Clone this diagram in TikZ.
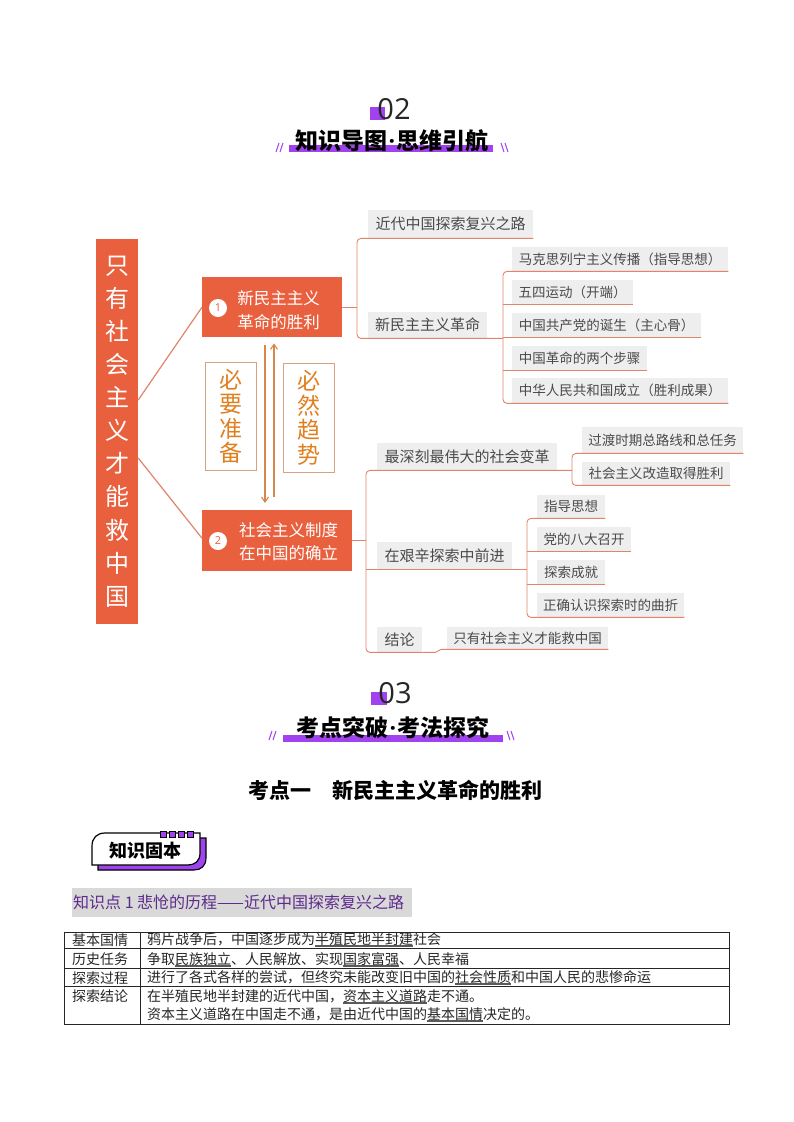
\documentclass[tikz,border=0pt]{standalone}
\usepackage{fontspec}
\usetikzlibrary{arrows.meta,calc}
\newfontfamily\cjk{Noto Sans CJK SC}
\newfontfamily\latinf{Open Sans}
\definecolor{mred}{HTML}{E9603F}
\definecolor{connc}{HTML}{E0846A}
\definecolor{boxgray}{HTML}{EEEEEE}
\definecolor{boxtext}{HTML}{4A4A4A}
\definecolor{arrc}{HTML}{D8874A}
\definecolor{prepb}{HTML}{D9A27E}
\definecolor{prept}{HTML}{E07F1E}
\definecolor{ppl}{HTML}{A043EE}
\definecolor{dppl}{HTML}{5E2A8B}
\definecolor{kgray}{HTML}{D9D9D9}
\definecolor{ulgray}{HTML}{5A5A5A}
\newcommand\myul[1]{\setbox0\hbox{#1}\rlap{\color{ulgray}\rule[-2.6pt]{\wd0}{2pt}}\box0}
\newcommand\mydot{\hspace{1pt}{\latinf\bfseries ·}\hspace{1pt}}
\newcommand\mmbox[7]{\node[#2, anchor=north west, minimum width=#5pt-#3pt, minimum height=#6pt-#4pt] (#1) at (#3,#4) {#7};}
\tikzset{
  lone/.style={fill=boxgray, text=boxtext, font=\cjk\fontsize{15}{18}\selectfont, inner sep=0pt},
  ltwo/.style={fill=boxgray, text=boxtext, font=\cjk\fontsize{13.5}{16}\selectfont, inner sep=0pt},
  conn/.style={draw=connc, line width=0.9pt, rounded corners=4pt},
  mainline/.style={draw=connc, line width=1.2pt},
  arrowl/.style={draw=arrc, line width=1.1pt},
  redbox/.style={fill=mred, inner sep=0pt},
  whitetxt/.style={text=white, font=\cjk\fontsize{16.5}{23.5}\selectfont, align=center, inner sep=0pt},
  numc/.style={circle, fill=white, minimum size=18pt, inner sep=0pt, text=mred, font=\latinf\fontsize{11}{12}\selectfont},
  prepbox/.style={draw=prepb, line width=1pt, text=prept, font=\cjk\fontsize{23}{24.5}\selectfont, align=center, inner sep=0pt},
  slash/.style={draw=ppl, line width=1pt},
  numtxt/.style={font=\latinf\fontsize{29}{30}\selectfont, text=black!85, inner sep=0pt},
  ttl/.style={font=\cjk\bfseries\fontsize{23}{25}\selectfont, inner sep=0pt},
  tbl/.style={draw=black!85, line width=0.9pt},
  tcell/.style={anchor=west, inner sep=0pt, font=\cjk\fontsize{14}{16}\selectfont, text=black!85},
}
\begin{document}
\begin{tikzpicture}[x=1pt,y=-1pt]
\useasboundingbox[fill=white] (0,0) rectangle (793,1122);

% ---------- header 02
\fill[ppl] (370,107) rectangle (385,120);
\node[numtxt] (h02) at (394,109) {02};
\fill[ppl] (289,145) rectangle (493,152);
\node[ttl] (t02) at (392,141) {知识导图\mydot 思维引航};
\draw[slash] (276,152) -- (279,143); \draw[slash] (280,152) -- (283,143);
\draw[slash] (501,143) -- (504,152); \draw[slash] (505,143) -- (508,152);

% ---------- mind map main nodes
\node[redbox, minimum width=42pt, minimum height=385pt, text=white, align=center,
      font=\cjk\fontsize{24}{33.1}\selectfont] (L) at (117,431.5)
      {只\\有\\社\\会\\主\\义\\才\\能\\救\\中\\国};
\node[redbox, anchor=north west, minimum width=140pt, minimum height=60pt] (n1) at (202,277) {};
\node[whitetxt] (n1t) at (278.5,310) {新民主主义\\革命的胜利};
\node[numc] (c1) at (218,308) {1};
\node[redbox, anchor=north west, minimum width=150pt, minimum height=61pt] (n2) at (202,510) {};
\node[whitetxt] (n2t) at (288.5,541.5) {社会主义制度\\在中国的确立};
\node[numc] (c2) at (218,541) {2};

\draw[mainline] ($(L.east)+(0,-31.5)$) -- (n1.west);
\draw[mainline] ($(L.east)+(0,26.5)$) -- ($(n2.west)+(0,-2.5)$);

% prep boxes
\node[prepbox, anchor=north west, minimum width=51pt, minimum height=108pt] (p1) at (205,362) {必\\要\\准\\备};
\node[prepbox, anchor=north west, minimum width=51pt, minimum height=109pt] (p2) at (283,363) {必\\然\\趋\\势};

% arrows
\coordinate (ax1) at (265,0);
\coordinate (ax2) at (274,0);
\draw[arrowl, -{Straight Barb[length=5pt,width=7pt]}, shorten <=8pt, shorten >=7pt] (ax1 |- n1.south) -- (ax1 |- n2.north);
\draw[arrowl, -{Straight Barb[length=5pt,width=7pt]}, shorten <=13pt, shorten >=6pt] (ax2 |- n2.north) -- (ax2 |- n1.south);

% ---------- branch boxes
\mmbox{k1}{lone}{368}{210}{533}{238}{近代中国探索复兴之路}
\mmbox{k2}{lone}{368}{312}{487}{338}{新民主主义革命}
\mmbox{s1}{ltwo}{512}{247}{728}{271}{马克思列宁主义传播（指导思想）}
\mmbox{s2}{ltwo}{512}{280}{633}{304}{五四运动（开端）}
\mmbox{s3}{ltwo}{512}{313}{701}{337}{中国共产党的诞生（主心骨）}
\mmbox{s4}{ltwo}{512}{346}{647}{370}{中国革命的两个步骤}
\mmbox{s5}{ltwo}{512}{378}{728}{403}{中华人民共和国成立（胜利成果）}
\mmbox{m1}{lone}{377}{443}{557}{470}{最深刻最伟大的社会变革}
\mmbox{m2}{lone}{377}{542}{512}{569}{在艰辛探索中前进}
\mmbox{m3}{lone}{377}{627}{422}{652}{结论}
\mmbox{t1}{ltwo}{582}{427}{743}{453}{过渡时期总路线和总任务}
\mmbox{t2}{ltwo}{582}{462}{730}{485}{社会主义改造取得胜利}
\mmbox{u1}{ltwo}{537}{495}{605}{518}{指导思想}
\mmbox{u2}{ltwo}{537}{527}{631}{551}{党的八大召开}
\mmbox{u3}{ltwo}{537}{560}{605}{584}{探索成就}
\mmbox{u4}{ltwo}{537}{593}{684}{617}{正确认识探索时的曲折}
\mmbox{v1}{ltwo}{447}{627}{608}{649}{只有社会主义才能救中国}

\coordinate (brA) at (357,0);
\coordinate (brB) at (503,0);
\coordinate (brC) at (366,0);
\coordinate (brD) at (572,0);
\coordinate (brE) at (527,0);

\draw[conn] (n1.east) -- (n1.east -| brA);
\draw[conn] (k1.south east) -| (brA |- k2.south) -- (brB |- k2.south);
\draw[conn] (s1.south east) -| (brB |- s5.south) -- (s5.south east);
\foreach \s in {s2,s3,s4} \draw[conn] (brB |- \s.south) -- (\s.south east);

\draw[conn] (n2.east) -- (n2.east -| brC);
\draw[conn] (brD |- m1.south) -| (brC |- m3.south) -- (m3.south east);
\draw[conn] (brC |- m2.south) -- (brE |- m2.south);
\draw[conn] (t1.south east) -| (brD |- t2.south) -- (t2.south east);
\draw[conn] (u1.south east) -| (brE |- u4.south) -- (u4.south east);
\foreach \s in {u2,u3} \draw[conn] (brE |- \s.south) -- (\s.south east);
\draw[conn, sharp corners] (m3.south east) -- ($(m3.south east)+(13,0)$) -- ($(v1.south west)+(-6,0)$) -- (v1.south east);

% ---------- header 03
\fill[ppl] (371,692) rectangle (387,705);
\node[numtxt] (h03) at (395,693) {03};
\fill[ppl] (283,735) rectangle (503,742);
\node[ttl] (t03) at (393,727.5) {考点突破\mydot 考法探究};
\draw[slash] (269,740) -- (272,731); \draw[slash] (273,740) -- (276,731);
\draw[slash] (507,731) -- (510,740); \draw[slash] (511,731) -- (514,740);

\node[font=\cjk\bfseries\fontsize{21}{23}\selectfont, inner sep=0pt] (kd1) at (395.5,790) {考点一　新民主主义革命的胜利};

% ---------- badge
\path[fill=ppl, draw=black, line width=1.1pt, shift={(6,5)}]
  (92,865) -- (92,846) .. controls (92,838) and (97,833) .. (105,833) -- (200,833) -- (200,853)
  .. controls (200,861) and (195,865) .. (188,865) -- cycle;
\path[fill=white, draw=black, line width=1.2pt]
  (92,865) -- (92,846) .. controls (92,838) and (97,833) .. (105,833) -- (200,833) -- (200,853)
  .. controls (200,861) and (195,865) .. (188,865) -- cycle;
\foreach \xx in {163,172,181,190} \filldraw[fill=ppl, draw=black, line width=0.7pt] (\xx-3,831) rectangle (\xx+3,837);
\node[font=\cjk\bfseries\fontsize{18}{20}\selectfont, inner sep=0pt] (bd) at (145.5,851) {知识固本};

% ---------- knowledge point title
\fill[kgray] (72,888) rectangle (412,917);
\node[anchor=west, inner sep=0pt, text=dppl, font=\cjk\fontsize{16}{18}\selectfont] (kp) at (73,902.5) {知识点 1 悲怆的历程——近代中国探索复兴之路};

% ---------- table
\draw[tbl] (64,932) rectangle (729,1024);
\draw[tbl] (64,948) -- (729,948);
\draw[tbl] (64,968) -- (729,968);
\draw[tbl] (64,986) -- (729,986);
\draw[tbl] (140,932) -- (140,1024);
\node[tcell] (r1a) at (72,940) {基本国情};
\node[tcell] (r2a) at (72,959.5) {历史任务};
\node[tcell] (r3a) at (72,978) {探索过程};
\node[tcell] (r4a) at (72,996.5) {探索结论};
\node[tcell] (r1b) at (147,940) {鸦片战争后，中国逐步成为\myul{半殖民地半封建}社会};
\node[tcell] (r2b) at (147,959.5) {争取\myul{民族独立}、人民解放、实现\myul{国家富强}、人民幸福};
\node[tcell] (r3b) at (147,978) {进行了各式各样的尝试，但终究未能改变旧中国的\myul{社会性质}和中国人民的悲惨命运};
\node[tcell] (r4b) at (147,996.5) {在半殖民地半封建的近代中国，\myul{资本主义道路}走不通。};
\node[tcell] (r4c) at (147,1015) {资本主义道路在中国走不通，是由近代中国的\myul{基本国情}决定的。};
\end{tikzpicture}
\end{document}
